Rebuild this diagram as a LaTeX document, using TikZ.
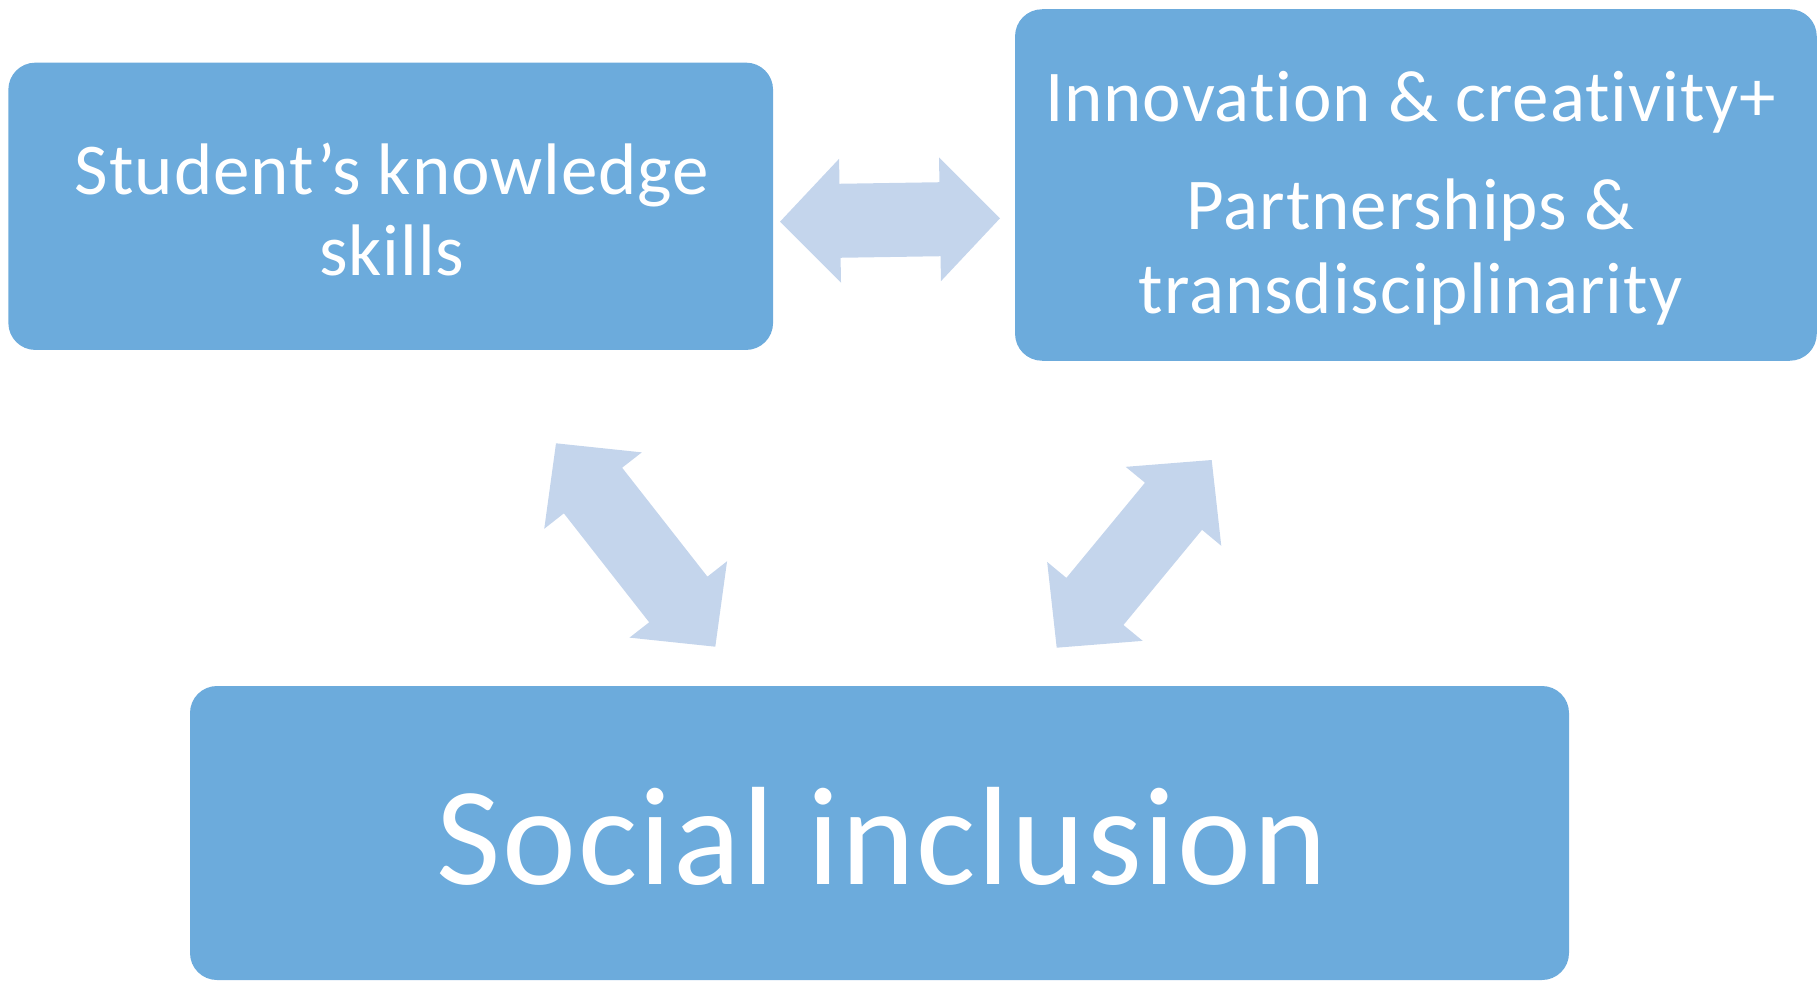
\documentclass[tikz,border=0pt]{standalone}
\usepackage{fontspec}
\setmainfont{Carlito}
\newfontfamily\boxfont[LetterSpace=1.3, Ligatures=NoCommon, RawFeature=-liga]{Carlito}
\usetikzlibrary{calc}

\definecolor{boxblue}{RGB}{108,171,220}
\definecolor{arrowblue}{RGB}{196,213,236}

% double block arrow between two named tips
\newcommand{\twowayarrow}[2]{%
  \fill[arrowblue] (#1) -- ($(#1)!86.3pt!45.9:(#2)$) -- ($(#1)!70.5pt!31.66:(#2)$)
    -- ($(#2)!70.5pt!-31.66:(#1)$) -- ($(#2)!86.3pt!-45.9:(#1)$) -- (#2)
    -- ($(#2)!86.3pt!45.9:(#1)$) -- ($(#2)!70.5pt!31.66:(#1)$)
    -- ($(#1)!70.5pt!-31.66:(#2)$) -- ($(#1)!86.3pt!-45.9:(#2)$) -- cycle;}

\begin{document}
\begin{tikzpicture}[
    x=1pt, y=-1pt,
    box/.style={rectangle, fill=boxblue, rounded corners=27pt, inner sep=0pt},
    boxtext/.style={text=white, align=center, anchor=base},
]
\useasboundingbox (0,0) rectangle (1819,981);

\node[box, minimum width=764.7pt, minimum height=287.3pt] (skills) at (390.7,206.3) {};
\node[box, minimum width=801.7pt, minimum height=351.5pt] (innov) at (1415.9,185) {};
\node[box, minimum width=1379pt, minimum height=294pt] (social) at (879.5,833) {};

% base anchor = baseline of the last line
\node[boxtext, font={\boxfont\fontsize{73}{81}\selectfont}] (skillsTxt) at (392,276)
  {Student’s knowledge\\skills};
\node[boxtext, font={\boxfont\fontsize{73}{84}\selectfont}] (innovTxt) at (1410.6,313.2)
  {Innovation \& creativity+\\[24pt]Partnerships \&\\transdisciplinarity};
\node[boxtext, font={\boxfont\fontsize{140}{160}\selectfont}] (socialTxt) at (882,884)
  {Social inclusion};

% arrow tips
\coordinate (h1) at (780,221.7);
\coordinate (h2) at (1000,218.3);
\coordinate (l1) at (556,443.3);
\coordinate (l2) at (715.3,646.7);
\coordinate (r1) at (1211.7,460);
\coordinate (r2) at (1056.7,647.7);

\twowayarrow{h1}{h2}
\twowayarrow{l1}{l2}
\twowayarrow{r1}{r2}

\end{tikzpicture}
\end{document}
